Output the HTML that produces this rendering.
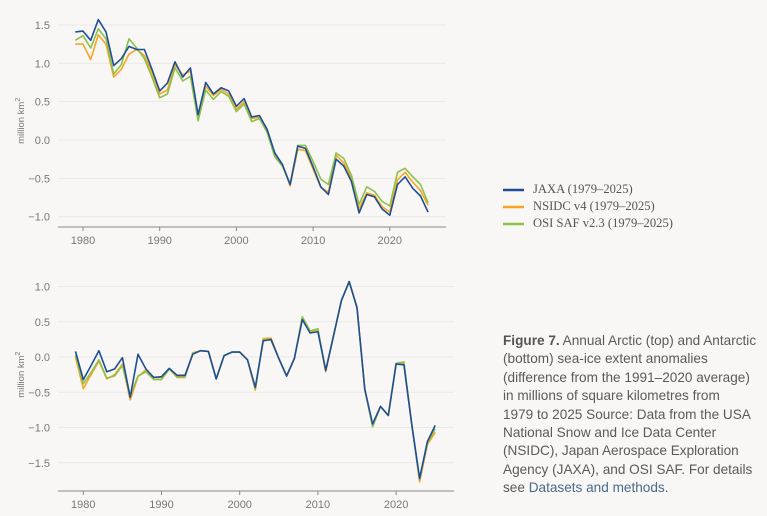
<!DOCTYPE html>
<html><head><meta charset="utf-8"><style>
body{margin:0;background:#f8f7f5;width:767px;height:516px;overflow:hidden;font-family:"Liberation Sans",sans-serif}
svg{position:absolute;left:0;top:0}
.leg{position:absolute;left:533px;font-family:"Liberation Serif",serif;font-size:12.6px;color:#555}
.cap{position:absolute;left:503px;top:332px;white-space:nowrap;font-size:13.6px;line-height:18.4px;color:#5a5a5a}
</style></head><body>
<svg id="s" width="767" height="516"></svg>
<div class="leg" style="top:182px">JAXA (1979–2025)</div>
<div class="leg" style="top:199px">NSIDC v4 (1979–2025)</div>
<div class="leg" style="top:216px">OSI SAF v2.3 (1979–2025)</div>
<div class="cap"><b style="color:#555">Figure 7.</b> Annual Arctic (top) and Antarctic<br>(bottom) sea-ice extent anomalies<br>(difference from the 1991–2020 average)<br>in millions of square kilometres from<br>1979 to 2025 Source: Data from the USA<br>National Snow and Ice Data Center<br>(NSIDC), Japan Aerospace Exploration<br>Agency (JAXA), and OSI SAF. For details<br>see <span style="color:#4a6a8a">Datasets and methods</span>.</div>
<script>
const C={j:"#1f4e96",n:"#f5a623",o:"#8cc14a"};
const A={j:[1.41,1.42,1.30,1.57,1.41,0.97,1.06,1.22,1.18,1.18,0.92,0.64,0.74,1.02,0.82,0.94,0.33,0.75,0.60,0.68,0.64,0.44,0.54,0.30,0.32,0.14,-0.17,-0.32,-0.58,-0.08,-0.11,-0.35,-0.61,-0.71,-0.25,-0.34,-0.54,-0.95,-0.71,-0.74,-0.90,-0.98,-0.58,-0.48,-0.63,-0.73,-0.94],
n:[1.25,1.25,1.05,1.37,1.25,0.82,0.92,1.12,1.18,1.10,0.88,0.60,0.65,0.98,0.85,0.90,0.30,0.70,0.58,0.66,0.60,0.40,0.50,0.28,0.30,0.12,-0.20,-0.32,-0.60,-0.12,-0.14,-0.38,-0.62,-0.68,-0.20,-0.30,-0.50,-0.90,-0.69,-0.72,-0.87,-0.94,-0.52,-0.42,-0.55,-0.66,-0.85],
o:[1.30,1.36,1.20,1.45,1.32,0.86,0.98,1.32,1.20,1.06,0.82,0.55,0.60,0.94,0.77,0.83,0.25,0.65,0.53,0.63,0.57,0.37,0.47,0.24,0.28,0.10,-0.22,-0.34,-0.58,-0.07,-0.07,-0.28,-0.51,-0.58,-0.17,-0.24,-0.46,-0.84,-0.61,-0.67,-0.80,-0.86,-0.42,-0.37,-0.48,-0.58,-0.82]};
const jb=[0.08,-0.32,-0.12,0.09,-0.21,-0.17,-0.01,-0.57,0.04,-0.17,-0.29,-0.28,-0.16,-0.26,-0.26,0.04,0.09,0.08,-0.31,0.02,0.07,0.07,-0.04,-0.43,0.23,0.25,-0.02,-0.27,-0.02,0.53,0.34,0.36,-0.19,0.30,0.80,1.07,0.70,-0.46,-0.95,-0.70,-0.83,-0.10,-0.11,-0.95,-1.72,-1.20,-0.97];
const nb=jb.slice(),ob=jb.slice();
[[1979,0.0,0.03],[1980,-0.45,-0.38],[1981,-0.25,-0.22],[1982,-0.06,-0.04],[1983,-0.31,-0.30],[1984,-0.25,-0.27],[1985,-0.10,-0.12],[1986,-0.61,-0.55],[1987,-0.28,-0.27],[1988,-0.18,-0.21],[1989,-0.29,-0.32],[1990,-0.29,-0.32],[1991,-0.17,-0.17],[1992,-0.29,-0.28],[1993,-0.29,-0.28],[1994,0.06,0.05],[2002,-0.47,-0.45],[2003,0.26,0.24],[2004,0.27,0.24],[2008,0.56,0.57],[2009,0.36,0.37],[2010,0.39,0.40],[2011,-0.21,-0.19],[2017,-0.97,-0.99],[2020,-0.09,-0.09],[2021,-0.09,-0.07],[2023,-1.77,-1.74],[2024,-1.24,-1.22],[2025,-1.07,-1.02]].forEach(r=>{nb[r[0]-1979]=r[1];ob[r[0]-1979]=r[2];});
let h="";
function chart(x0,sx,y0,sy,ticks,axY,xr,data){
 ticks.forEach(t=>{const y=y0-t*sy;h+=`<line x1="58" x2="${xr}" y1="${y}" y2="${y}" stroke="#ebe9e6"/>`;
 h+=`<text x="50" y="${y+4}" text-anchor="end" font-size="11" fill="#777">${t.toFixed(1).replace('-','−')}</text>`});
 h+=`<line x1="58" x2="${xr}" y1="${axY}" y2="${axY}" stroke="#888"/>`;
 [1980,1990,2000,2010,2020].forEach(yr=>{const x=x0+(yr-1980)*sx;h+=`<line x1="${x}" x2="${x}" y1="${axY}" y2="${axY+4}" stroke="#888"/><text x="${x}" y="${axY+17}" text-anchor="middle" font-size="11" fill="#777">${yr}</text>`});
 const my=(y0-((ticks[0]+ticks[ticks.length-1])/2)*sy);
 h+=`<text transform="translate(24,${my}) rotate(-90)" text-anchor="middle" font-size="9.5" fill="#777">million km<tspan dy="-4" font-size="7">2</tspan></text>`;
 data.forEach(([d,c])=>{h+=`<polyline fill="none" stroke="${c}" stroke-width="1.6" stroke-linejoin="round" points="${d.map((v,i)=>(x0+(i-1)*sx).toFixed(1)+","+(y0-v*sy).toFixed(1)).join(" ")}"/>`});
}
chart(83,7.67,140,76.7,[1.5,1,0.5,0,-0.5,-1],227,446,[[A.n,C.n],[A.o,C.o],[A.j,C.j]]);
chart(83.3,7.82,357,70.5,[1,0.5,0,-0.5,-1,-1.5],491,454,[[nb,C.n],[ob,C.o],[jb,C.j]]);
[[190,C.j],[207,C.n],[224,C.o]].forEach(([y,c])=>{h+=`<line x1="503" x2="524" y1="${y}" y2="${y}" stroke="${c}" stroke-width="2.5"/>`});
document.getElementById("s").innerHTML=h;
</script>
</body></html>
